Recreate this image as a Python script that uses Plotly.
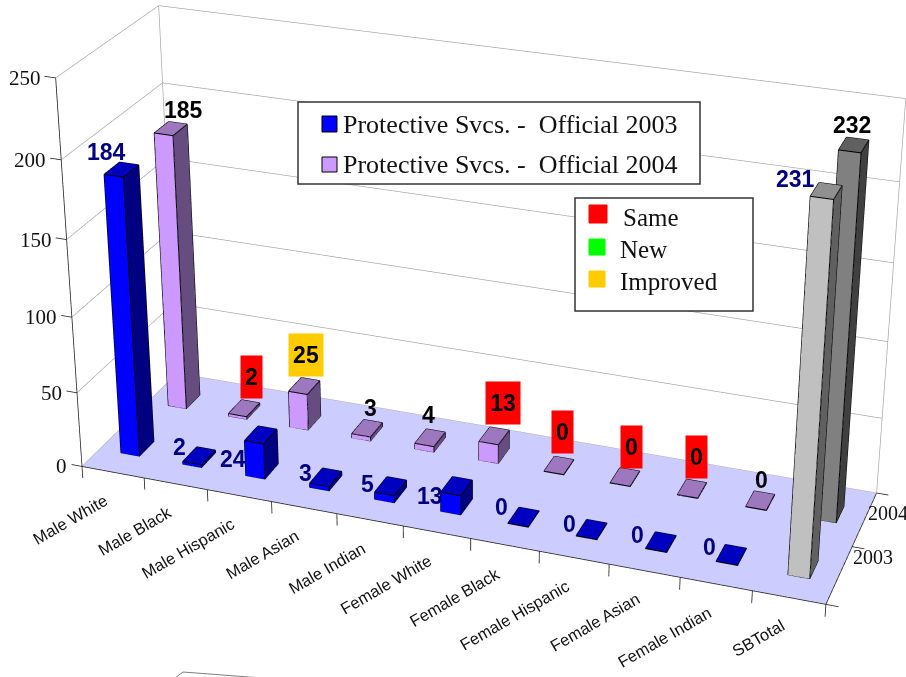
import plotly.graph_objects as go

categories = ["Male White","Male Black","Male Hispanic","Male Asian","Male Indian","Female White","Female Black","Female Hispanic","Female Asian","Female Indian","SBTotal"]
years = ["2003","2004"]
v2003 = [184,2,24,3,5,13,0,0,0,0,231]
v2004 = [185,2,25,3,4,13,0,0,0,0,232]
status2004 = [None,"Same","Improved",None,None,"Same","Same","Same","Same",None,None]
zticks = [0,50,100,150,200,250]

# label offsets in pixels from the top of each bar
shift2003 = [(-15,18),(-20,9),(-28,-24),(-20,4),(-23,2),(-27,-10),(-22,11),(-22,6),(-23,8),(-22,8),(-31,12)]
shift2004 = [(13,19),(7,31),(2,31),(3,20),(-2,23),(9,33),(4,34),(7,31),(4,32),(1,21),(-2,20)]

# Excel's long-lens view: the scene is larger than the window so that plotly's fixed field of view matches
W, H, TOP = 926, 2221, 838
EYE = dict(x=1.8365, y=-5.1419, z=2.5843)
CENTER = dict(x=-0.0464, y=0.0192, z=0.0525)
UP = dict(x=0.0001, y=0.001, z=1)
ASPECT = dict(x=1.8925, y=0.566, z=1.0206)
XR, YR, ZR = [-0.3, 11.4], [-0.1, 2.1], [-12, 250.5]

SANS = "Liberation Sans"
SERIF = "Liberation Serif"
FLAT = dict(ambient=1, diffuse=0, specular=0, fresnel=0, roughness=1)
fig = go.Figure()

def line3d(x, y, z, color, width):
    fig.add_trace(go.Scatter3d(x=x, y=y, z=z, mode="lines", line=dict(color=color, width=width), hoverinfo="skip", showlegend=False))

# floor
fig.add_trace(go.Mesh3d(x=[0,11,11,0], y=[0,0,2,2], z=[0,0,0,0], i=[0,0], j=[1,2], k=[2,3], color="#CCCCFF", flatshading=True, hoverinfo="skip", lighting=FLAT))

# walls and gridlines
gx, gy, gz = [], [], []
for t in zticks:
    gx += [0,0,11,None]; gy += [0,2,2,None]; gz += [t,t,t,None]
gx += [0,0,None,11,11]; gy += [2,2,None,2,2]; gz += [0,250,None,0,250]
line3d(gx, gy, gz, "#a0a0a0", 1.3)

# axis lines and tick marks
ax, ay, az = [0,0,None,0,11,11], [0,0,None,0,0,2], [0,250,None,0,0,0]
for t in zticks:
    ax += [None,0,-0.17]; ay += [None,0,0]; az += [None,t,t]
for n in range(len(categories)+1):
    ax += [None,n,n]; ay += [None,0,0]; az += [None,0,-8]
for n in range(len(years)+1):
    ax += [None,11,11.17]; ay += [None,n,n]; az += [None,0,0]
line3d(ax, ay, az, "#222222", 1.6)

def bars(vals, y, name, cols, cols_total):
    X, Y, Z, I, J, K, FC, lx, ly, lz = [], [], [], [], [], [], [], [], [], []
    w = 0.15
    for n, v in enumerate(vals):
        c = n + 0.5
        x0, x1, y0, y1 = c-w, c+w, y-w, y+w
        t = max(v, 0.4)
        col = cols_total if n == len(vals)-1 else cols
        b = len(X)
        for zz in (0.05, t):
            for a, bb in ((x0,y0),(x1,y0),(x1,y1),(x0,y1)):
                X.append(a); Y.append(bb); Z.append(zz)
        faces = [((0,1,5),0),((0,5,4),0),((1,2,6),1),((1,6,5),1),((4,5,6),2),((4,6,7),2),((0,4,7),1),((0,7,3),1),((3,2,6),1),((3,6,7),1)]
        for (a,bb,cc), ci in faces:
            I.append(b+a); J.append(b+bb); K.append(b+cc); FC.append(col[ci])
        for e in [(0,1),(1,2),(4,5),(5,6),(6,7),(7,4),(0,4),(1,5),(2,6)]:
            for q in e:
                lx.append(X[b+q]); ly.append(Y[b+q]); lz.append(Z[b+q])
            lx.append(None); ly.append(None); lz.append(None)
    fig.add_trace(go.Mesh3d(x=X, y=Y, z=Z, i=I, j=J, k=K, facecolor=FC, flatshading=True, name=name, hoverinfo="skip", lighting=FLAT))
    line3d(lx, ly, lz, "#000000", 2)

bars(v2003, 0.5, "Protective Svcs. - Official 2003", ("#0000FF","#000080","#0000C0"), ("#C0C0C0","#606060","#909090"))
bars(v2004, 1.5, "Protective Svcs. - Official 2004", ("#CC99FF","#664D80","#9D78BF"), ("#808080","#404040","#606060"))

ann3 = []
for n, v in enumerate(v2003):
    ann3.append(dict(x=n+0.5, y=0.5, z=v, text=str(v), showarrow=False, xshift=shift2003[n][0], yshift=shift2003[n][1],
                     font=dict(family=SANS, size=23, color="#000080", weight="bold")))
status_color = {"Same":"#FF0000", "New":"#00FF00", "Improved":"#FFCC00"}
for n, v in enumerate(v2004):
    d = dict(x=n+0.5, y=1.5, z=v, text=str(v), showarrow=False, xshift=shift2004[n][0], yshift=shift2004[n][1],
             font=dict(family=SANS, size=23, color="#000000", weight="bold"))
    if status2004[n]:
        d.update(bgcolor=status_color[status2004[n]], width=21 if v < 10 else 34, height=42, borderpad=0)
    ann3.append(d)
for n, cn in enumerate(categories):
    ann3.append(dict(x=n+0.5, y=0, z=0, text=cn, showarrow=False, textangle=-30, xanchor="right", yanchor="top", xshift=1, yshift=-16,
                     font=dict(family=SANS, size=16.5, color="#111111")))
for t in zticks:
    ann3.append(dict(x=0, y=0, z=t, text=str(t), showarrow=False, xanchor="right", yanchor="middle", xshift=-13, font=dict(family=SERIF, size=21, color="#111111")))
for n, yr in enumerate(years):
    ann3.append(dict(x=11, y=n+0.5, z=0, text=yr, showarrow=False, xanchor="left", yanchor="middle", xshift=[12,1][n], yshift=[18,6][n], font=dict(family=SERIF, size=20, color="#111111")))

hidden = dict(visible=False, showspikes=False)
scene = dict(
    xaxis=dict(range=XR, **hidden), yaxis=dict(range=YR, **hidden), zaxis=dict(range=ZR, **hidden),
    aspectmode="manual", aspectratio=ASPECT,
    camera=dict(eye=EYE, center=CENTER, up=UP, projection=dict(type="perspective")),
    domain=dict(x=[0,1], y=[0,1]), annotations=ann3)

xp = lambda x: x/W
yp = lambda y: 1-(y+TOP)/H
def rect(x0, y0, x1, y1, fill, line, lw=1):
    return dict(type="rect", xref="paper", yref="paper", x0=xp(x0), x1=xp(x1), y0=yp(y0), y1=yp(y1), fillcolor=fill, line=dict(color=line, width=lw), layer="above")
shapes = [rect(298,102,700,184,"#FFFFFF","#333333",1.5), rect(322,116,337,132,"#0000FF","#000000"), rect(322,157,337,172,"#CC99FF","#000000"),
          rect(575,198,753,311,"#FFFFFF","#333333",1.5), rect(589,205,607,223,"#FF0000","#FF0000"), rect(589,239,605,255,"#00FF00","#00FF00"), rect(589,271,605,287,"#FFCC00","#FFCC00"),
          dict(type="path", xref="paper", yref="paper", path=f"M{xp(175)},{yp(678)} L{xp(183)},{yp(672)} L{xp(262)},{yp(678)}", line=dict(color="#808080", width=1), layer="above")]
def txt(x, y, t, size=25):
    return dict(xref="paper", yref="paper", x=xp(x), y=yp(y), text=t, xanchor="left", yanchor="middle", showarrow=False, font=dict(family=SERIF, size=size, color="#111111"))
anns = [txt(341,124,"Protective Svcs. -\u00a0\u00a0Official 2003",26), txt(341,164,"Protective Svcs. -\u00a0\u00a0Official 2004",26),
        txt(621,217,"Same"), txt(618,249,"New"), txt(618,281,"Improved")]
fig.update_layout(width=W, height=H, margin=dict(l=0,r=0,t=0,b=0), paper_bgcolor="white", showlegend=False, scene=scene, shapes=shapes, annotations=anns)
post = f"document.documentElement.style.overflow='hidden';document.body.style.margin='0';document.body.style.overflow='hidden';document.getElementById('{{plot_id}}').style.marginTop='{-TOP}px';"
fig.write_html("out.html", post_script=post)
